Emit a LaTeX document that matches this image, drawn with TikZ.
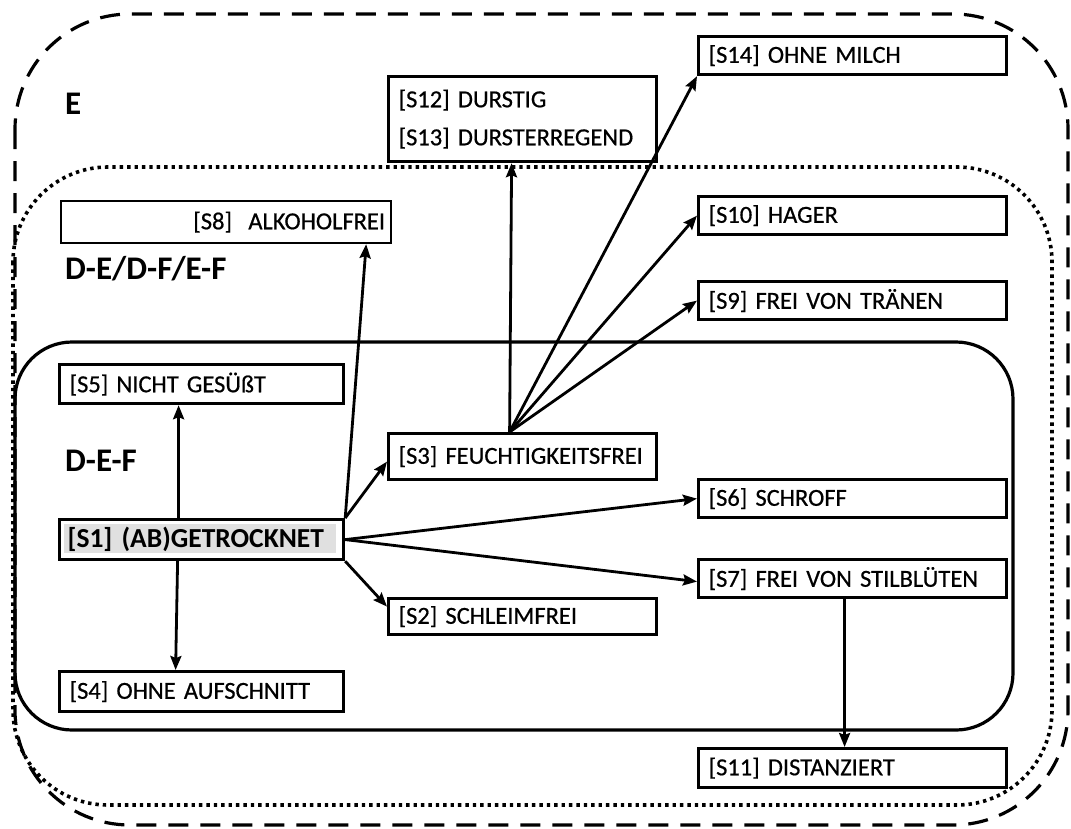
\documentclass[tikz,border=0pt]{standalone}
\usepackage{fontspec}
\setmainfont{Carlito}
\newfontfamily\boxfont{Carlito}[FakeBold=0.6]
\usetikzlibrary{arrows.meta}
\begin{document}
\begin{tikzpicture}[x=1pt,y=-1pt,
  bx/.style={draw, line width=3.2pt, fill=white, inner xsep=10pt, inner ysep=0pt,
    align=left, anchor=north west, font=\boxfont\fontsize{24.5}{29}\selectfont},
  lbl/.style={anchor=base west, inner sep=0pt, font=\fontsize{33}{38}\bfseries\selectfont},
  arr/.style={line width=2.8pt, -{Stealth[length=14pt,width=11pt,inset=2pt]}},
  outerE/.style={line width=3.2pt, dash pattern=on 20pt off 12pt, rounded corners=115pt},
  midD/.style={line width=3.6pt, dash pattern=on 3.4pt off 4pt, rounded corners=95pt},
  innerF/.style={line width=3.2pt, rounded corners=57pt},
  hl/.style={fill=black!12}]
\useasboundingbox (0,0) rectangle (1071,828);
% containers
\draw[outerE] (15,14) rectangle (1068,825);
\draw[midD] (13,167) rectangle (1052,805);
\draw[innerF] (15,342) rectangle (1013,730);
% labels
\node[lbl] (le) at (65,114) {E};
\node[lbl] (lde) at (65,279) {D-E/D-F/E-F};
\node[lbl] (ldef) at (65,471) {D-E-F};
% boxes
\node[bx, minimum width=308pt, minimum height=38pt, text width=288pt] (s14) at (697,35) {[S14] OHNE MILCH};
\node[bx, minimum width=268pt, minimum height=85pt, text width=248pt, font=\boxfont\fontsize{24.5}{38}\selectfont] (s12) at (387,75) {[S12] DURSTIG\\\relax [S13] DURSTERREGEND};
\node[bx, minimum width=308pt, minimum height=38pt, text width=288pt] (s10) at (697,195) {[S10] HAGER};
\node[bx, line width=2.2pt, minimum width=330pt, minimum height=42pt, text width=318pt, inner xsep=6pt, align=right] (s8) at (60,200) {[S8]\ \ ALKOHOLFREI};
\node[bx, minimum width=308pt, minimum height=38pt, text width=288pt] (s9) at (697,280) {[S9] FREI VON TRÄNEN};
\node[bx, minimum width=284pt, minimum height=39pt, text width=264pt] (s5) at (58,363) {[S5] NICHT GESÜßT};
\node[bx, minimum width=268pt, minimum height=46pt, text width=248pt] (s3) at (387,432) {[S3] FEUCHTIGKEITSFREI};
\node[bx, minimum width=308pt, minimum height=38pt, text width=288pt] (s6) at (697,478) {[S6] SCHROFF};
\fill[hl] (64,524) rectangle (336,553);
\node[bx, fill=none, minimum width=284pt, minimum height=40pt, text width=268pt, inner xsep=8pt, font=\fontsize{27.5}{32}\bfseries\selectfont] (s1) at (58,518) {[S1] (AB)GETROCKNET};
\node[bx, minimum width=308pt, minimum height=38pt, text width=288pt] (s7) at (697,558) {[S7] FREI VON STILBLÜTEN};
\node[bx, minimum width=268pt, minimum height=36pt, text width=248pt] (s2) at (387,597) {[S2] SCHLEIMFREI};
\node[bx, minimum width=284pt, minimum height=40pt, text width=264pt] (s4) at (58,670) {[S4] OHNE AUFSCHNITT};
\node[bx, minimum width=308pt, minimum height=39pt, text width=288pt] (s11) at (697,747) {[S11] DISTANZIERT};
% connectors
\draw[arr] ([xshift=-23pt]s1.north) -- ([xshift=-23pt]s5.south);
\draw[arr] ([xshift=-24pt]s1.south) -- ([xshift=-26pt]s4.north);
\draw[arr] (s1.north east) -- ([xshift=-26pt]s8.south east);
\draw[arr] (s1.north east) -- ([yshift=-5pt]s3.west);
\draw[arr] (s1.east) -- (s6.west);
\draw[arr] (s1.east) -- ([yshift=-3pt]s7.west);
\draw[arr] (s1.south east) -- ([yshift=10pt]s2.west);
\draw[arr] ([xshift=-13pt]s3.north) -- ([xshift=-11pt]s12.south);
\draw[arr] ([xshift=-13pt]s3.north) -- (s14.south west);
\draw[arr] ([xshift=-13pt]s3.north) -- (s10.west);
\draw[arr] ([xshift=-13pt]s3.north) -- (s9.west);
\draw[arr] ([xshift=-8pt]s7.south) -- ([xshift=-8pt]s11.north);
\end{tikzpicture}
\end{document}
